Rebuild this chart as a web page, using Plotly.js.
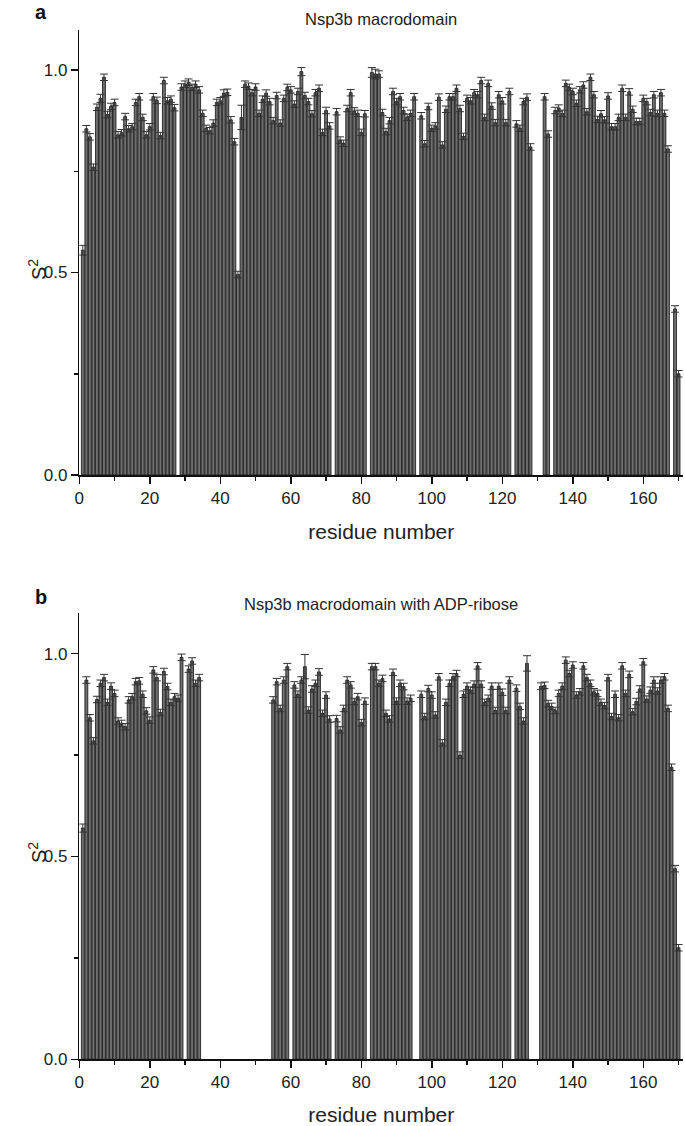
<!DOCTYPE html>
<html>
<head>
<meta charset="utf-8">
<script src="https://cdn.plot.ly/plotly-3.0.1.min.js"></script>
<style>
html,body{margin:0;padding:0;background:#fff;}
#chart{width:685px;height:1126px;}
</style>
</head>
<body>
<div id="chart"></div>
<script>
// ---------- DATA ----------
var titleA = "Nsp3b macrodomain";
var titleB = "Nsp3b macrodomain with ADP-ribose";
var xTitle = "residue number";
var yTitle = "S<sup>2</sup>";
var xTickVals = [0, 20, 40, 60, 80, 100, 120, 140, 160];
var yTickVals = [0.0, 0.5, 1.0];
var yTickText = ["0.0", "0.5", "1.0"];

// S2 per residue (1..170), null = not determined
var s2Free = [
0.555,0.855,0.835,0.760,0.908,0.930,0.982,0.890,0.910,0.920,
0.840,0.845,0.885,0.855,0.860,0.920,0.934,0.883,0.840,0.860,
0.934,0.925,0.838,0.974,0.924,0.928,0.907,null,0.958,0.965,
0.970,0.957,0.965,0.951,0.893,0.856,0.850,0.869,0.920,0.924,
0.943,0.945,0.877,0.823,0.495,0.883,0.965,0.960,0.944,0.958,
0.893,0.928,0.943,0.922,0.875,0.937,0.869,0.930,0.957,0.951,
0.916,0.947,0.996,0.937,0.922,0.892,0.944,0.955,0.846,0.900,
0.862,null,0.897,0.827,0.819,0.905,0.944,0.899,0.893,0.846,
0.892,null,0.994,0.990,0.990,0.895,0.848,0.875,0.947,0.922,
0.934,0.900,0.883,0.893,0.934,null,0.887,0.818,0.910,0.856,
0.862,0.933,0.815,0.903,0.934,0.934,0.955,0.905,0.836,0.930,
0.924,0.944,0.939,0.974,0.883,0.967,0.911,0.870,0.939,0.924,
0.870,0.947,null,0.867,0.856,0.922,0.933,0.810,null,null,
null,0.934,0.842,null,0.900,0.906,0.893,0.967,0.957,0.947,
0.918,0.951,0.963,0.897,0.982,0.939,0.878,0.892,0.877,0.936,
0.860,0.860,0.883,0.955,0.883,0.946,0.903,0.873,0.873,0.930,
0.922,0.895,0.939,0.893,0.944,0.893,0.805,null,0.410,0.250
];
var errFree = [
0.012,0.008,0.008,0.008,0.008,0.010,0.008,0.008,0.008,0.008,
0.008,0.008,0.008,0.008,0.008,0.008,0.008,0.008,0.008,0.008,
0.008,0.008,0.008,0.008,0.008,0.008,0.008,0.000,0.008,0.008,
0.008,0.008,0.008,0.008,0.008,0.008,0.008,0.008,0.008,0.008,
0.008,0.008,0.008,0.008,0.008,0.030,0.008,0.008,0.008,0.008,
0.008,0.008,0.008,0.008,0.008,0.008,0.008,0.008,0.008,0.008,
0.008,0.008,0.010,0.008,0.008,0.008,0.008,0.008,0.008,0.008,
0.008,0.000,0.008,0.008,0.008,0.008,0.008,0.008,0.008,0.008,
0.008,0.000,0.012,0.012,0.008,0.008,0.008,0.008,0.008,0.008,
0.008,0.008,0.008,0.008,0.008,0.000,0.008,0.008,0.008,0.008,
0.008,0.008,0.008,0.008,0.008,0.008,0.008,0.008,0.008,0.008,
0.008,0.008,0.008,0.008,0.008,0.008,0.008,0.008,0.008,0.008,
0.008,0.008,0.000,0.008,0.008,0.008,0.008,0.008,0.000,0.000,
0.000,0.008,0.008,0.000,0.008,0.008,0.008,0.008,0.008,0.008,
0.008,0.008,0.008,0.008,0.008,0.008,0.008,0.008,0.008,0.008,
0.008,0.008,0.008,0.008,0.008,0.008,0.008,0.008,0.008,0.008,
0.008,0.008,0.008,0.008,0.008,0.008,0.008,0.000,0.008,0.008
];
var s2Adpr = [
0.570,0.935,0.842,0.785,0.887,0.927,0.941,0.880,0.920,0.902,
0.834,0.828,0.820,0.886,0.894,0.931,0.933,0.900,0.859,0.836,
0.960,0.941,0.855,0.956,0.919,0.880,0.894,0.890,0.991,null,
0.962,0.982,0.927,0.941,null,null,null,null,null,null,
null,null,null,null,null,null,null,null,null,null,
null,null,null,null,0.886,0.931,0.865,0.935,0.968,null,
0.923,0.900,0.935,0.968,0.861,0.913,0.927,0.955,0.853,0.898,
0.839,null,0.840,0.812,0.865,0.935,0.923,0.882,0.894,0.830,
0.883,null,0.968,0.968,0.927,0.939,0.853,0.839,0.954,0.883,
0.927,0.919,0.883,0.890,null,null,0.900,0.845,0.914,0.898,
0.849,0.943,0.780,0.880,0.927,0.943,0.951,0.750,0.900,0.920,
0.910,0.925,0.970,0.925,0.880,0.890,0.920,0.860,0.920,0.905,
0.860,0.935,null,0.915,0.870,0.834,0.976,null,null,null,
0.920,0.922,0.877,0.870,0.860,0.902,0.920,0.984,0.951,0.972,
0.898,0.906,0.970,0.941,0.927,0.906,0.902,0.880,0.872,0.941,
0.845,0.900,0.842,0.970,0.902,0.949,0.857,0.882,0.913,0.980,
0.888,0.910,0.935,0.908,0.935,0.943,0.865,0.720,0.470,0.275
];
var errAdpr = [
0.010,0.008,0.008,0.008,0.008,0.008,0.008,0.008,0.008,0.008,
0.008,0.008,0.008,0.008,0.008,0.008,0.008,0.008,0.008,0.008,
0.008,0.008,0.008,0.008,0.008,0.008,0.008,0.008,0.008,0.000,
0.008,0.008,0.008,0.008,0.000,0.000,0.000,0.000,0.000,0.000,
0.000,0.000,0.000,0.000,0.000,0.000,0.000,0.000,0.000,0.000,
0.000,0.000,0.000,0.000,0.008,0.008,0.008,0.008,0.008,0.000,
0.008,0.008,0.008,0.030,0.008,0.008,0.008,0.008,0.008,0.008,
0.008,0.000,0.008,0.008,0.008,0.008,0.008,0.008,0.008,0.008,
0.008,0.000,0.008,0.008,0.008,0.008,0.008,0.008,0.008,0.008,
0.008,0.008,0.008,0.008,0.000,0.000,0.008,0.008,0.008,0.008,
0.008,0.008,0.008,0.008,0.008,0.008,0.008,0.008,0.008,0.008,
0.008,0.008,0.008,0.008,0.008,0.008,0.008,0.008,0.008,0.008,
0.008,0.008,0.000,0.008,0.008,0.008,0.019,0.000,0.000,0.000,
0.008,0.008,0.008,0.008,0.008,0.008,0.008,0.008,0.008,0.008,
0.008,0.008,0.008,0.008,0.008,0.008,0.008,0.008,0.008,0.008,
0.008,0.008,0.008,0.008,0.008,0.008,0.008,0.008,0.008,0.008,
0.008,0.008,0.008,0.008,0.008,0.008,0.008,0.008,0.008,0.008
];
var residues = s2Free.map(function(_, i){ return i + 1; });

// ---------- STYLE ----------
var FONT = "Liberation Sans, Arial, sans-serif";
var barStyle = {color: "#6f6f6f", line: {color: "#111111", width: 0.8}};
function errStyle(arr){
  return {type: "data", array: arr, visible: true, color: "#333333", thickness: 1, width: 4};
}

var traces = [
  {type: "bar", x: residues, y: s2Free, xaxis: "x", yaxis: "y",
   marker: barStyle, error_y: errStyle(errFree), hoverinfo: "x+y"},
  {type: "bar", x: residues, y: s2Adpr, xaxis: "x2", yaxis: "y2",
   marker: barStyle, error_y: errStyle(errAdpr), hoverinfo: "x+y"}
];

var H = 1126, W = 685;
function fy(px){ return 1 - px / H; }
function fx(px){ return px / W; }

function xAxis(anchor){
  return {
    anchor: anchor, range: [0, 171.35], tickvals: xTickVals, ticks: "outside", ticklen: 7, tickwidth: 1.5,
    tickcolor: "#111", showline: true, linecolor: "#111", linewidth: 1.5,
    showgrid: false, zeroline: false, tickfont: {family: FONT, size: 17, color: "#222"},
    minor: {tickvals: [10,30,50,70,90,110,130,150,170], ticks: "outside", ticklen: 4, tickwidth: 1.5, tickcolor: "#111", showgrid: false},
    title: {text: xTitle, font: {family: FONT, size: 21, color: "#222"}, standoff: 17},
    domain: [fx(79.3), fx(683.3)], fixedrange: true
  };
}
function yAxis(anchor, dom){
  return {
    anchor: anchor, domain: dom, range: [0, 1.1], tickvals: yTickVals, ticktext: yTickText, ticks: "outside",
    ticklen: 7, tickwidth: 1.5, tickcolor: "#111", showline: true, linecolor: "#111", linewidth: 1.5,
    showgrid: false, zeroline: false, tickfont: {family: FONT, size: 17, color: "#222"},
    minor: {tickvals: [0.25, 0.75], ticks: "outside", ticklen: 4, tickwidth: 1.5, tickcolor: "#111", showgrid: false},
    fixedrange: true
  };
}

var layout = {
  width: W, height: H, margin: {l: 0, r: 0, t: 0, b: 0},
  paper_bgcolor: "#fff", plot_bgcolor: "#fff", showlegend: false,
  bargap: 0.18,
  xaxis: xAxis("y"),
  yaxis: yAxis("x", [fy(475), fy(29.5)]),
  xaxis2: xAxis("y2"),
  yaxis2: yAxis("x2", [fy(1059.3), fy(613.1)]),
  annotations: [
    {text: "<b>a</b>", x: fx(41), y: fy(11.5), xref: "paper", yref: "paper", showarrow: false, font: {family: FONT, size: 20, color: "#111"}, xanchor: "center", yanchor: "middle"},
    {text: "<b>b</b>", x: fx(41), y: fy(597), xref: "paper", yref: "paper", showarrow: false, font: {family: FONT, size: 20, color: "#111"}, xanchor: "center", yanchor: "middle"},
    {text: titleA, x: fx(381), y: fy(19), xref: "paper", yref: "paper", showarrow: false, font: {family: FONT, size: 16.5, color: "#222"}, xanchor: "center", yanchor: "middle"},
    {text: titleB, x: fx(381), y: fy(604), xref: "paper", yref: "paper", showarrow: false, font: {family: FONT, size: 16.5, color: "#222"}, xanchor: "center", yanchor: "middle"},
    {text: yTitle, x: fx(37), y: fy(270), xref: "paper", yref: "paper", showarrow: false, textangle: -90, font: {family: FONT, size: 20, color: "#222"}, xanchor: "center", yanchor: "middle"},
    {text: yTitle, x: fx(37), y: fy(853), xref: "paper", yref: "paper", showarrow: false, textangle: -90, font: {family: FONT, size: 20, color: "#222"}, xanchor: "center", yanchor: "middle"}
  ]
};

Plotly.newPlot("chart", traces, layout, {staticPlot: true, displayModeBar: false});
</script>
</body>
</html>
